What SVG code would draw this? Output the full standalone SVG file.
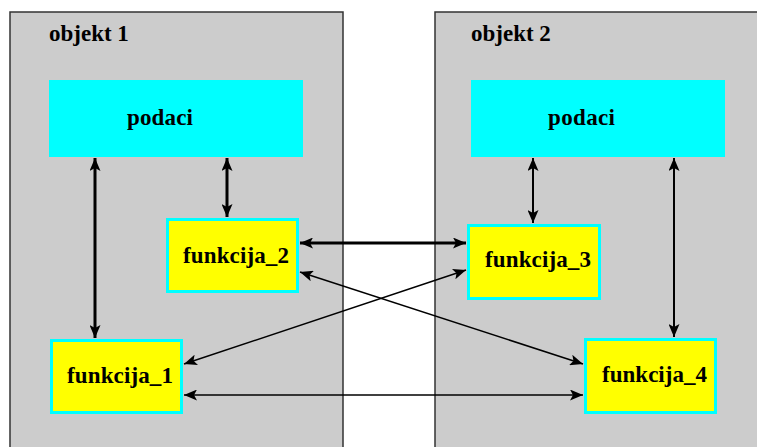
<svg xmlns="http://www.w3.org/2000/svg" width="757" height="447" viewBox="0 0 757 447">
<defs>
<style>
.obj{fill:#cccccc;stroke:#333333;stroke-width:1.5}
.dat{fill:#00ffff}
.fn{fill:#ffff00;stroke:#00ffff;stroke-width:3}
text{font-family:"Liberation Serif","Times New Roman",serif;font-weight:bold;font-size:23px;fill:#000}
.c{fill:none;stroke:#000}
.w3{stroke-width:3}
.w2{stroke-width:2}
.w1{stroke-width:1.5}
</style>
<marker id="ah" viewBox="0 0 13 11" refX="13" refY="5.5" markerWidth="13" markerHeight="11" markerUnits="userSpaceOnUse" orient="auto-start-reverse">
<path d="M0,0 L13,5.5 L0,11 L3,5.5 Z" fill="#000"/>
</marker>
</defs>
<rect width="757" height="447" fill="#ffffff"/>
<g id="objekt1">
<rect class="obj" x="10" y="12" width="333" height="450"/>
<text x="49" y="41">objekt 1</text>
</g>
<g id="objekt2">
<rect class="obj" x="435" y="12" width="340" height="450"/>
<text x="471" y="41">objekt 2</text>
</g>
<g id="podaci1">
<rect class="dat" x="49" y="80" width="254" height="77"/>
<text x="127" y="125" textLength="66">podaci</text>
</g>
<g id="podaci2">
<rect class="dat" x="471" y="80" width="254" height="77"/>
<text x="548" y="125" textLength="67">podaci</text>
</g>
<g id="funkcija_2">
<rect class="fn" x="167.5" y="219.5" width="130" height="72"/>
<text x="183" y="263" textLength="106">funkcija_2</text>
</g>
<g id="funkcija_1">
<rect class="fn" x="51.5" y="340.5" width="130" height="72"/>
<text x="67" y="383" textLength="106">funkcija_1</text>
</g>
<g id="funkcija_3">
<rect class="fn" x="468.5" y="225.5" width="131" height="73"/>
<text x="485" y="267" textLength="106">funkcija_3</text>
</g>
<g id="funkcija_4">
<rect class="fn" x="585.5" y="339.5" width="130" height="73"/>
<text x="602" y="382" textLength="105">funkcija_4</text>
</g>
<g id="connectors">
<line class="c w3" x1="95" y1="158" x2="95" y2="338" marker-start="url(#ah)" marker-end="url(#ah)"/>
<line class="c w3" x1="227" y1="158" x2="227" y2="217" marker-start="url(#ah)" marker-end="url(#ah)"/>
<line class="c w2" x1="533" y1="158" x2="533" y2="223" marker-start="url(#ah)" marker-end="url(#ah)"/>
<line class="c w2" x1="674" y1="158" x2="674" y2="337" marker-start="url(#ah)" marker-end="url(#ah)"/>
<line class="c w3" x1="300" y1="243" x2="466" y2="243" marker-start="url(#ah)" marker-end="url(#ah)"/>
<line class="c w1" x1="184" y1="395" x2="583" y2="395" marker-start="url(#ah)" marker-end="url(#ah)"/>
<line class="c w1" x1="300" y1="272" x2="583" y2="364" marker-start="url(#ah)" marker-end="url(#ah)"/>
<line class="c w1" x1="184" y1="364" x2="466" y2="270" marker-start="url(#ah)" marker-end="url(#ah)"/>
</g>
</svg>
